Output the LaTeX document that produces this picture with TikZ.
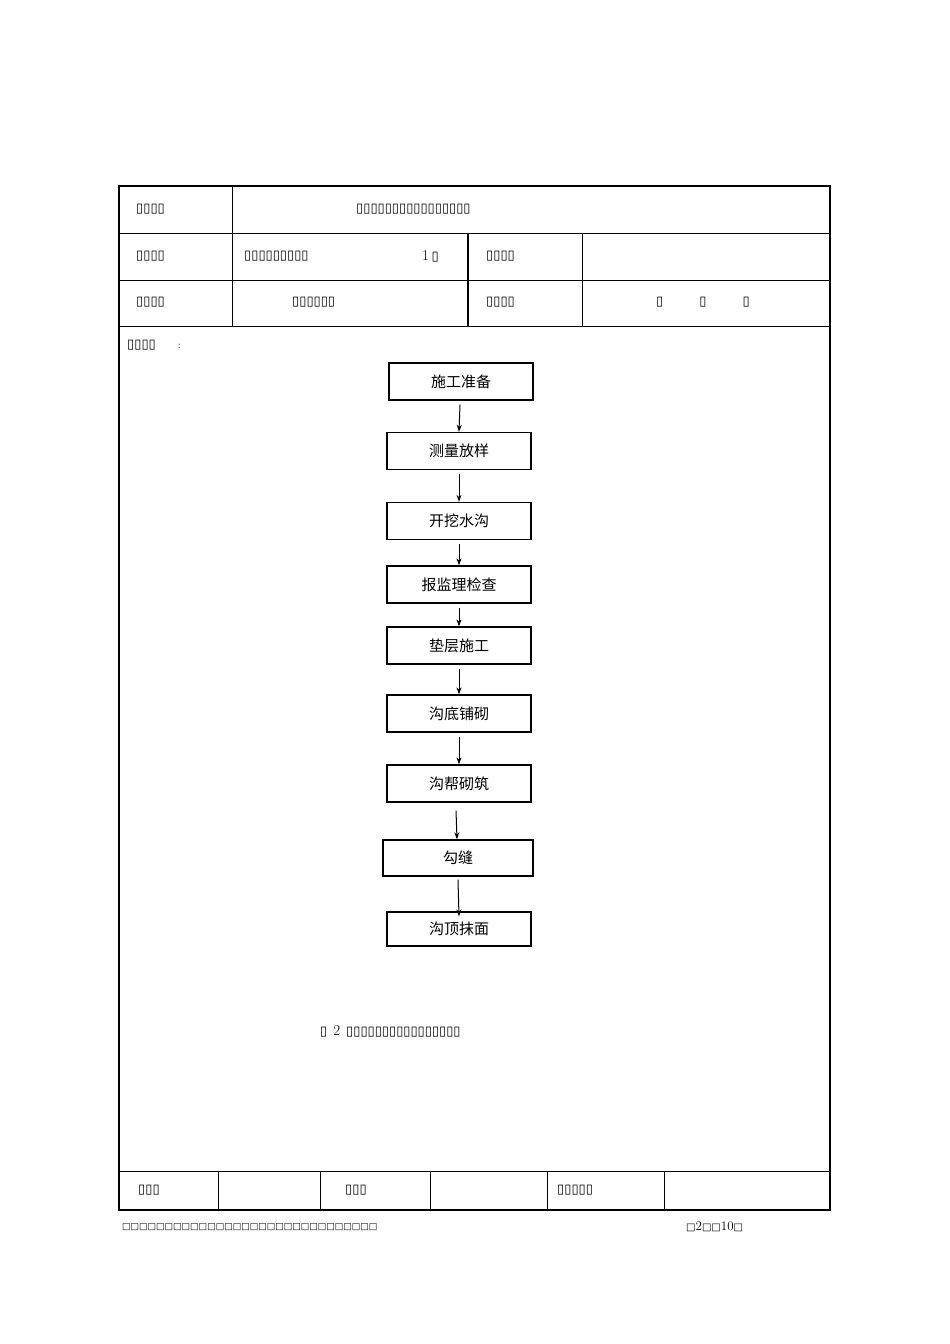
\documentclass[tikz,border=0pt]{standalone}
\usepackage{fontspec}
\newfontfamily\cjk{Noto Sans CJK SC}
\newfontfamily\dv{DejaVu Sans}
\usetikzlibrary{arrows.meta}
\newcommand{\tb}[1]{{\dv\fontsize{13}{13}\selectfont\foreach \i in {1,...,#1}{▯}}}
\begin{document}
\begin{tikzpicture}[x=1pt,y=-1pt,
  stepbox/.style={draw,line width=1.3pt,minimum width=144pt,minimum height=37pt,inner sep=0pt,font=\cjk\fontsize{15}{15}\selectfont},
  arr/.style={-{Stealth[length=7pt,width=5pt]},line width=1pt},
  lbl/.style={anchor=west,inner sep=0pt},
  thin/.style={line width=0.8pt}]
\useasboundingbox (0,0) rectangle (950,1344);
% table
\draw[line width=1.6pt] (119,186) rectangle (830,1210);
\draw[thin] (119,233) -- (830,233) (119,280) -- (830,280) (119,326) -- (830,326) (119,1171) -- (830,1171);
\draw[thin] (232,186) -- (232,326);
\draw[line width=1.2pt] (468,233) -- (468,326);
\draw[thin] (582,233) -- (582,326);
\foreach \x in {218,320,430,547,664} \draw[thin] (\x,1171) -- (\x,1210);
\node[lbl] (a1) at (136,209) {\tb{4}};
\node[lbl] (a2) at (356,209) {\tb{16}};
\node[lbl] (b1) at (136,256) {\tb{4}};
\node[lbl] (b2) at (244,256) {\tb{9}};
\node[lbl] (b3) at (422,256) {\fontsize{15}{15}\selectfont 1\,\tb{1}};
\node[lbl] (b4) at (486,256) {\tb{4}};
\node[lbl] (c1) at (136,302) {\tb{4}};
\node[lbl] (c2) at (292,302) {\tb{6}};
\node[lbl] (c3) at (486,302) {\tb{4}};
\node[lbl] (c4) at (656,302) {\tb{1}\hspace{36pt}\tb{1}\hspace{36pt}\tb{1}};
\node[lbl] (d1) at (127,345) {\tb{4}\hspace{22pt}:};
\node[lbl] (cap) at (320,1031) {\tb{1}\hspace{6pt}{\fontsize{15}{15}\selectfont 2}\hspace{6pt}\tb{16}};
\node[lbl] (f1) at (138,1190) {\tb{3}};
\node[lbl] (f2) at (345,1190) {\tb{3}};
\node[lbl] (f3) at (557,1190) {\tb{5}};
\node[lbl] (g1) at (122,1227) {{\dv\fontsize{9}{9}\selectfont\foreach \i in {1,...,30}{□}}};
\node[lbl] (g2) at (686,1227) {{\fontsize{13}{13}\selectfont{\dv\fontsize{10}{10}\selectfont □}2{\dv\fontsize{10}{10}\selectfont □□}10{\dv\fontsize{10}{10}\selectfont □}}};
% flow
\node[stepbox] (s1) at (461,381.5) {施工准备};
\node[stepbox] (s2) at (459,451) {测量放样};
\node[stepbox] (s3) at (459,521) {开挖水沟};
\node[stepbox] (s4) at (459,584.5) {报监理检查};
\node[stepbox] (s5) at (459,645.5) {垫层施工};
\node[stepbox] (s6) at (459,713.5) {沟底铺砌};
\node[stepbox] (s7) at (459,783.5) {沟帮砌筑};
\node[stepbox,minimum width=150pt,minimum height=36pt] (s8) at (458,858) {勾缝};
\node[stepbox,minimum height=34pt] (s9) at (459,929) {沟顶抹面};
\draw[arr] (s1.south) ++(-1,4) -- (s2.north);
\foreach \a/\b in {s2/s3,s3/s4,s4/s5,s5/s6,s6/s7} \draw[arr] (\a.south) ++(0,4) -- (\b.north);
\draw[arr] ([xshift=-3pt,yshift=-8pt]s7.south) -- ([xshift=-1pt]s8.north);
\draw[arr] ([yshift=-3pt]s8.south) -- ([yshift=-5pt]s9.north);
\end{tikzpicture}
\end{document}
